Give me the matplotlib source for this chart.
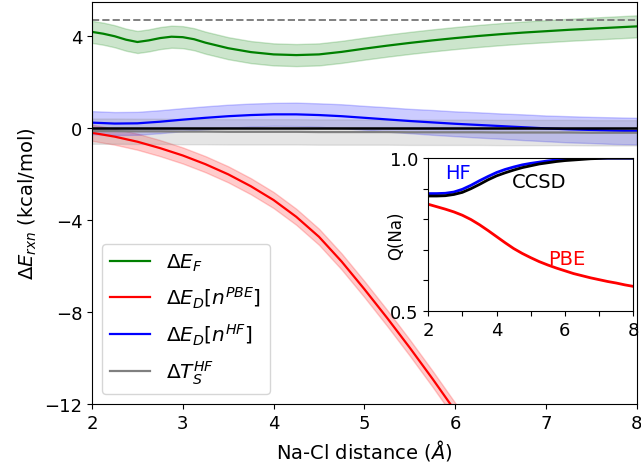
import numpy as np
import matplotlib
matplotlib.use("Agg")
import matplotlib.pyplot as plt

# ==================================================
# data
# ==================================================
dist = [2.0, 2.25, 2.5, 2.75, 3.0, 3.25, 3.5, 3.75, 4.0, 4.25, 4.5, 4.75, 5.0,
        5.25, 5.5, 5.75, 6.0, 6.25, 6.5, 6.75, 7.0, 7.25, 7.5, 7.75, 8.0]

# delta E_F: finer grid at short distance (wiggle near 2.5-3 A)
dist_f = [2.0, 2.125, 2.25, 2.375, 2.5, 2.625, 2.75, 2.875, 3.0, 3.125, 3.25, 3.5, 3.75,
          4.0, 4.25, 4.5, 4.75, 5.0, 5.25, 5.5, 5.75, 6.0, 6.25, 6.5, 6.75, 7.0,
          7.25, 7.5, 7.75, 8.0]
dE_F = [4.20, 4.12, 4.01, 3.86, 3.76, 3.83, 3.93, 3.99, 3.97, 3.88, 3.73, 3.49, 3.32,
        3.22, 3.19, 3.22, 3.33, 3.47, 3.60, 3.72, 3.83, 3.93, 4.02, 4.10, 4.17, 4.23,
        4.29, 4.34, 4.39, 4.44]
dE_F_err = 0.48

dist_pbe = [2.0, 2.25, 2.5, 2.75, 3.0, 3.25, 3.5, 3.75, 4.0, 4.25, 4.5, 4.75, 5.0,
            5.25, 5.5, 5.75, 6.0, 6.25]
dE_D_pbe = [-0.19, -0.36, -0.58, -0.86, -1.18, -1.56, -2.00, -2.52, -3.12, -3.85, -4.72,
            -5.80, -7.00, -8.25, -9.55, -10.9, -12.3, -13.75]
dE_D_pbe_err = 0.35

dE_D_hf = [0.25, 0.21, 0.22, 0.29, 0.38, 0.46, 0.53, 0.58, 0.61, 0.61, 0.58, 0.53, 0.46,
           0.39, 0.32, 0.26, 0.20, 0.15, 0.10, 0.05, 0.00, -0.04, -0.07, -0.10, -0.12]
dE_D_hf_err = [0.50, 0.50, 0.50, 0.50, 0.50, 0.50, 0.50, 0.50, 0.50, 0.51, 0.51, 0.52, 0.52,
               0.53, 0.53, 0.54, 0.54, 0.55, 0.55, 0.56, 0.56, 0.57, 0.57, 0.58, 0.58]

dT_s = [-0.12, -0.12, -0.13, -0.13, -0.14, -0.14, -0.15, -0.15, -0.15, -0.15, -0.16, -0.16,
        -0.16, -0.16, -0.17, -0.17, -0.17, -0.17, -0.18, -0.18, -0.18, -0.18, -0.19, -0.19, -0.19]
dT_s_err = 0.55

ref_level = 4.7

# inset: charge on Na
q_hf = [0.884, 0.884, 0.885, 0.889, 0.898, 0.911, 0.926, 0.940, 0.953, 0.963, 0.971, 0.978,
        0.983, 0.987, 0.991, 0.994, 0.996, 0.998, 0.999, 1.0, 1.0, 1.0, 1.0, 1.0, 1.0]
q_ccsd = [0.876, 0.876, 0.877, 0.881, 0.888, 0.900, 0.914, 0.929, 0.942, 0.952, 0.961, 0.969,
          0.975, 0.981, 0.985, 0.989, 0.992, 0.994, 0.996, 0.998, 0.999, 1.0, 1.0, 1.0, 1.0]
q_pbe = [0.849, 0.841, 0.833, 0.824, 0.813, 0.799, 0.782, 0.763, 0.743, 0.723, 0.704, 0.688,
         0.674, 0.661, 0.650, 0.640, 0.631, 0.622, 0.615, 0.608, 0.602, 0.596, 0.591, 0.585, 0.580]

# ==================================================
# main panel
# ==================================================
fig = plt.figure(figsize=(6.41, 4.64), dpi=100)
ax = fig.add_axes([0.1435, 0.127, 0.850, 0.8665])

xf = np.array(dist_f)
ax.plot(xf, dE_F, color="green", lw=1.6, label=r"$\Delta E_F$")
ax.fill_between(xf, np.array(dE_F) - dE_F_err, np.array(dE_F) + dE_F_err,
                color="green", alpha=0.2, lw=1)

xp = np.array(dist_pbe)
ax.plot(xp, dE_D_pbe, color="red", lw=1.6, label=r"$\Delta E_D[n^{PBE}]$")
ax.fill_between(xp, np.array(dE_D_pbe) - dE_D_pbe_err, np.array(dE_D_pbe) + dE_D_pbe_err,
                color="red", alpha=0.2, lw=1)

x = np.array(dist)
ax.plot(x, dE_D_hf, color="blue", lw=1.6, label=r"$\Delta E_D[n^{HF}]$")
ax.fill_between(x, np.array(dE_D_hf) - np.array(dE_D_hf_err),
                np.array(dE_D_hf) + np.array(dE_D_hf_err), color="blue", alpha=0.2, lw=1)

ax.plot(x, dT_s, color="gray", lw=1.6, label=r"$\Delta T_S^{HF}$")
ax.fill_between(x, np.array(dT_s) - dT_s_err, np.array(dT_s) + dT_s_err,
                color="gray", alpha=0.2, lw=1)

ax.axhline(0, color="black", lw=1.8)
ax.axhline(ref_level, color="gray", ls="--", lw=1.4)

ax.set_xlim(2, 8)
ax.set_ylim(-12, 5.5)
ax.set_xticks([2, 3, 4, 5, 6, 7, 8])
ax.set_yticks([4, 0, -4, -8, -12])
ax.tick_params(labelsize=13)
ax.set_xlabel(r"Na-Cl distance ($\AA$)", fontsize=14)
ax.set_ylabel(r"$\Delta E_{rxn}$ (kcal/mol)", fontsize=14)
ax.legend(loc="lower left", fontsize=14.5, labelspacing=0.58)

# ==================================================
# inset
# ==================================================
axin = fig.add_axes([0.668, 0.328, 0.320, 0.329])
axin.plot(x, q_hf, color="blue", lw=2)
axin.plot(x, q_ccsd, color="black", lw=2)
axin.plot(x, q_pbe, color="red", lw=2)
axin.text(2.5, 0.953, "HF", color="blue", fontsize=14, va="center")
axin.text(4.45, 0.924, "CCSD", color="black", fontsize=14, va="center")
axin.text(5.5, 0.672, "PBE", color="red", fontsize=14, va="center")

axin.set_xlim(2, 8)
axin.set_ylim(0.5, 1.0)
axin.set_xticks([2, 3, 4, 5, 6, 7, 8])
axin.set_xticklabels(["2", "", "4", "", "6", "", "8"])
axin.set_yticks([0.5, 0.6, 0.7, 0.8, 0.9, 1.0])
axin.set_yticklabels(["0.5", "", "", "", "", "1.0"])
axin.tick_params(labelsize=13)
axin.set_ylabel("Q(Na)", fontsize=12)
axin.yaxis.set_label_coords(-0.11, 0.5)

fig.savefig("out.png", dpi=100)
